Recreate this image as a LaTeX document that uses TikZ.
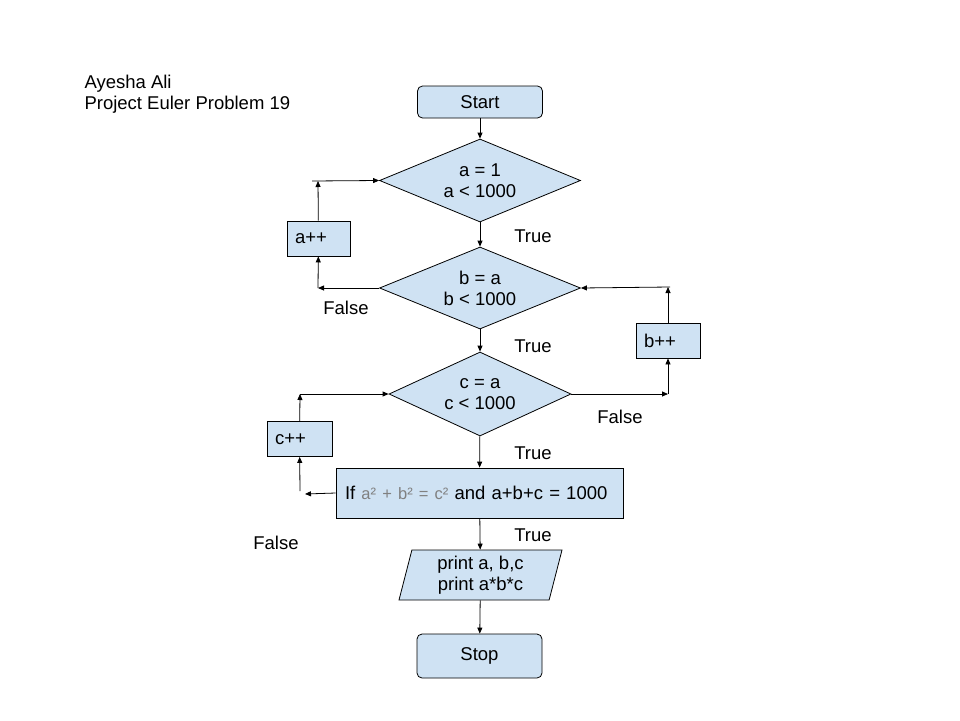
\documentclass[tikz,border=0pt]{standalone}
\usepackage{fontspec}
\setmainfont{Liberation Sans}
\usetikzlibrary{shapes,arrows.meta}
\definecolor{fc_blue}{RGB}{207, 226, 243}
\definecolor{fc_gray}{RGB}{128, 128, 128}
\tikzstyle{term}=[rectangle,rounded corners=5pt,fill=fc_blue,draw=black,
  line width=0.8 pt,minimum width=125pt,minimum height=32pt,
  font=\fontsize{18.5}{21}\selectfont]
\tikzstyle{dec}=[diamond,fill=fc_blue,draw=black,line width=0.8 pt,
  inner sep=-4pt,aspect=2.3,align=center,font=\fontsize{18.5}{21}\selectfont]
\tikzstyle{proc}=[rectangle,fill=fc_blue,draw=black,line width=0.8 pt,
  inner xsep=8pt,align=left,minimum height=35pt,
  font=\fontsize{18.5}{21}\selectfont]
\tikzstyle{io}=[trapezium,trapezium left angle=74,trapezium right angle=106,
  trapezium stretches body,fill=fc_blue,draw=black,line width=0.8 pt,
  minimum width=163pt,minimum height=50pt,align=center,
  font=\fontsize{18.5}{21}\selectfont]
\tikzstyle{lbl}=[font=\fontsize{18.5}{21}\selectfont]
\tikzstyle{arr}=[-{Triangle[length=6pt,width=5pt]},line width=0.8 pt]
\begin{document}
\begin{tikzpicture}[x=1pt,y=-1pt]
    \useasboundingbox (0,0) rectangle (960,720);
    \node [style=lbl,anchor=west] (name) at (81,84) {Ayesha Ali};
    \node [style=lbl,anchor=west] (title) at (81,105) {Project Euler Problem 19};
    \node [style=term] (start) at (480,102) {Start};
    \node [style=dec,minimum width=201pt,minimum height=83pt] (loopa) at (480,180.5) {a = 1\\a < 1000};
    \node [style=dec,minimum width=201pt,minimum height=82pt] (loopb) at (480,288) {b = a\\b < 1000};
    \node [style=dec,minimum width=182pt,minimum height=84pt] (loopc) at (480,394) {c = a\\c < 1000};
    \node [style=proc,text width=269pt,inner xsep=9pt,minimum height=50pt] (check) at (479.5,493)
      {If {\color{fc_gray}\fontsize{16.5}{19}\selectfont a² + b² = c²} and a+b+c = 1000};
    \node [style=io] (print) at (480.5,575) {print a, b,c\\print a*b*c};
    \node [style=term,minimum height=44pt] (stop) at (479.5,656) {Stop};
    \node [style=proc,text width=47pt] (incra) at (318.5,238.5) {a++};
    \node [style=proc,text width=48pt] (incrb) at (668,340.5) {b++};
    \node [style=proc,text width=49pt] (incrc) at (299.5,439) {c++};
    \coordinate (afalse) at (318,288);
    \coordinate (aup) at (318,181);
    \coordinate (aback) at (312,181);
    \coordinate (bfalse) at (668,394);
    \coordinate (bup) at (668,287);
    \coordinate (bback) at (670,287);
    \coordinate (cfalse) at (305,494);
    \coordinate (cbot) at (300,491);
    \coordinate (cup) at (300,394);
    \draw [style=arr] (start) to (loopa);
    \draw [style=arr] (loopa) to (loopb);
    \draw [style=arr] (loopb) to (loopc);
    \draw [style=arr] (loopc) to (check);
    \draw [style=arr] (check) to (print);
    \draw [style=arr] (print) to (stop);
    \draw [style=arr] (loopb.west) to (afalse);
    \draw [style=arr] (afalse) to (incra);
    \draw [style=arr] (incra) to (aup);
    \draw [style=arr] (aback) to (loopa.west);
    \draw [style=arr] (loopc.east) to (bfalse);
    \draw [style=arr] (bfalse) to (incrb);
    \draw [style=arr] (incrb) to (bup);
    \draw [style=arr] (bback) to (loopb.east);
    \draw [style=arr] (check.west) to (cfalse);
    \draw [style=arr] (cbot) to (incrc);
    \draw [style=arr] (incrc) to (cup);
    \draw [style=arr] (cup) to (loopc.west);
    \node [style=lbl] (ta) at (533,236) {True};
    \node [style=lbl] (tb) at (533,346) {True};
    \node [style=lbl] (tc) at (533,453) {True};
    \node [style=lbl] (td) at (533,535) {True};
    \node [style=lbl] (fa) at (346,308) {False};
    \node [style=lbl] (fb) at (620,417) {False};
    \node [style=lbl] (fc) at (276,543) {False};
  \end{tikzpicture}
\end{document}
